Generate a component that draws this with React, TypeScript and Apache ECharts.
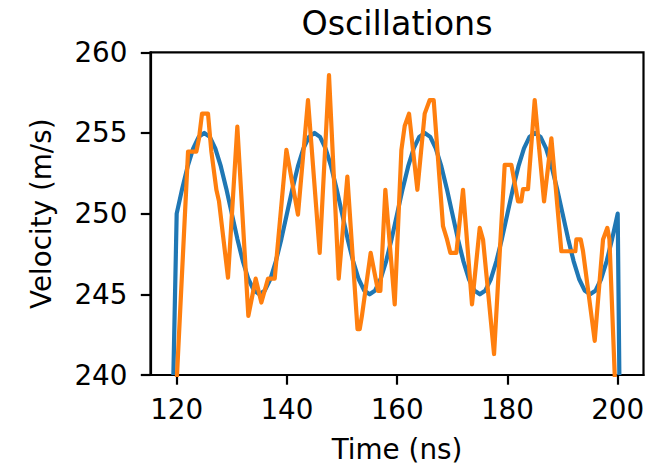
import React, { useEffect, useRef } from "react";
import * as echarts from "echarts";

const titleText = "Oscillations";
const xAxisTitle = "Time (ns)";
const yAxisTitle = "Velocity (m/s)";

const xTicks = [120, 140, 160, 180, 200];
const yTicks = [240, 245, 250, 255, 260];

const timeModel = [
  119.4, 120, 121, 122, 123, 124, 125, 126, 127, 128, 129, 130, 131, 132, 133, 134, 135, 136, 137, 138, 139,
  140, 141, 142, 143, 144, 145, 146, 147, 148, 149, 150, 151, 152, 153, 154, 155, 156, 157, 158, 159,
  160, 161, 162, 163, 164, 165, 166, 167, 168, 169, 170, 171, 172, 173, 174, 175, 176, 177, 178, 179,
  180, 181, 182, 183, 184, 185, 186, 187, 188, 189, 190, 191, 192, 193, 194, 195, 196, 197, 198, 199,
  200, 200.3,
];
const velocityModel = [
  240, 250, 251.55, 252.94, 254.05, 254.76, 255, 254.76, 254.05, 252.94, 251.55, 250, 248.45, 247.06, 245.95, 245.24, 245, 245.24, 245.95, 247.06, 248.45,
  250, 251.55, 252.94, 254.05, 254.76, 255, 254.76, 254.05, 252.94, 251.55, 250, 248.45, 247.06, 245.95, 245.24, 245, 245.24, 245.95, 247.06, 248.45,
  250, 251.55, 252.94, 254.05, 254.76, 255, 254.76, 254.05, 252.94, 251.55, 250, 248.45, 247.06, 245.95, 245.24, 245, 245.24, 245.95, 247.06, 248.45,
  250, 251.55, 252.94, 254.05, 254.76, 255, 254.76, 254.05, 252.94, 251.55, 250, 248.45, 247.06, 245.95, 245.24, 245, 245.24, 245.95, 247.06, 248.45,
  250, 240,
];

const timeMeasured = [
  120.0, 122.06, 123.57, 124.05, 124.6, 125.68, 126.29, 127.2, 127.68, 129.31, 131.0, 133.0, 134.33, 135.36,
  136.57, 137.78, 139.9, 142.0, 143.82, 145.94, 147.63, 149.39, 150.96, 152.8, 153.2, 153.6, 155.19, 156.52,
  156.95, 157.85, 159.55, 160.76, 161.36, 162.15, 163.66, 164.99, 165.9, 166.62, 168.31, 169.04, 169.64,
  170.73, 171.94, 173.57, 174.97, 175.57, 177.57, 179.5, 180.71, 181.92, 182.5, 182.83, 183.73, 184.94,
  186.64, 187.97, 189.78, 192.32, 192.5, 193.29, 193.71, 195.83, 197.34, 198.12, 198.5, 200.0,
];
const velocityMeasured = [
  239.6, 253.85, 253.85, 254.67, 256.2, 256.2, 253.85, 251.48, 250.76, 246.03, 255.39, 243.66, 245.97, 244.49,
  245.97, 245.97, 253.95, 249.94, 257.04, 247.57, 258.58, 245.97, 252.3, 242.84, 242.84, 243.66, 247.57, 245.21,
  245.21, 251.48, 244.38, 253.95, 255.43, 256.2, 251.48, 256.2, 257.04, 257.04, 249.22, 248.4, 247.57,
  247.57, 251.48, 244.38, 249.12, 248.4, 241.3, 253.02, 253.02, 250.76, 250.76, 251.52, 251.52, 257.04,
  250.76, 254.67, 247.67, 247.67, 248.4, 248.4, 247.67, 242.12, 248.4, 249.12, 248.4, 235.3,
];

const FONT = "DejaVu Sans";

export default function App() {
  const ref = useRef<HTMLDivElement>(null);
  useEffect(() => {
    if (!ref.current) return;
    const chart = echarts.init(ref.current, undefined, { renderer: "svg" });
    const modelData = timeModel.map((t, i) => [t, velocityModel[i]]);
    const measuredData = timeMeasured.map((t, i) => [t, velocityMeasured[i]]);
    chart.setOption({
      animation: false,
      backgroundColor: "#ffffff",
      grid: {
        left: 150.5,
        right: 22.5,
        top: 52.3,
        bottom: 94,
        show: true,
        borderColor: "#000000",
        borderWidth: 2.2,
        backgroundColor: "transparent",
      },
      xAxis: {
        type: "value",
        min: 115.25,
        max: 204.68,
        axisLine: { show: true, lineStyle: { color: "#000", width: 2.2 } },
        axisTick: {
          show: true,
          inside: false,
          length: 9.7,
          lineStyle: { color: "#000", width: 2.2 },
          customValues: xTicks,
        },
        axisLabel: {
          show: true,
          customValues: xTicks,
          margin: 20,
          color: "#000",
          fontFamily: FONT,
          fontSize: 27.8,
        },
        splitLine: { show: false },
      },
      yAxis: {
        type: "value",
        min: 240,
        max: 260,
        interval: 5,
        axisLine: { show: true, lineStyle: { color: "#000", width: 2.2 } },
        axisTick: {
          show: true,
          inside: false,
          length: 9.7,
          lineStyle: { color: "#000", width: 2.2 },
        },
        axisLabel: {
          show: true,
          margin: 23,
          color: "#000",
          fontFamily: FONT,
          fontSize: 27.8,
          formatter: (v: number) => (yTicks.includes(v) ? String(v) : ""),
        },
        splitLine: { show: false },
      },
      series: [
        {
          type: "line",
          data: modelData,
          showSymbol: false,
          symbol: "none",
          clip: true,
          lineStyle: { color: "#1f77b4", width: 4.2, join: "round", cap: "butt" },
          z: 2,
        },
        {
          type: "line",
          data: measuredData,
          showSymbol: false,
          symbol: "none",
          clip: true,
          lineStyle: { color: "#ff7f0e", width: 4.2, join: "round", cap: "butt" },
          z: 3,
        },
      ],
      graphic: [
        {
          type: "text",
          x: 397,
          y: 23,
          style: {
            text: titleText,
            fontFamily: FONT,
            fontSize: 33.3,
            fill: "#000",
            align: "center",
            verticalAlign: "middle",
          },
        },
        {
          type: "text",
          x: 397,
          y: 449,
          style: {
            text: xAxisTitle,
            fontFamily: FONT,
            fontSize: 27.8,
            fill: "#000",
            align: "center",
            verticalAlign: "middle",
          },
        },
        {
          type: "text",
          x: 41.8,
          y: 213.7,
          rotation: Math.PI / 2,
          style: {
            text: yAxisTitle,
            fontFamily: FONT,
            fontSize: 27.8,
            fill: "#000",
            align: "center",
            verticalAlign: "middle",
          },
        },
      ],
    });
    return () => chart.dispose();
  }, []);
  return (
    <div
      ref={ref}
      style={{ position: "fixed", left: 0, top: 0, width: 666, height: 469, background: "#fff" }}
    />
  );
}
